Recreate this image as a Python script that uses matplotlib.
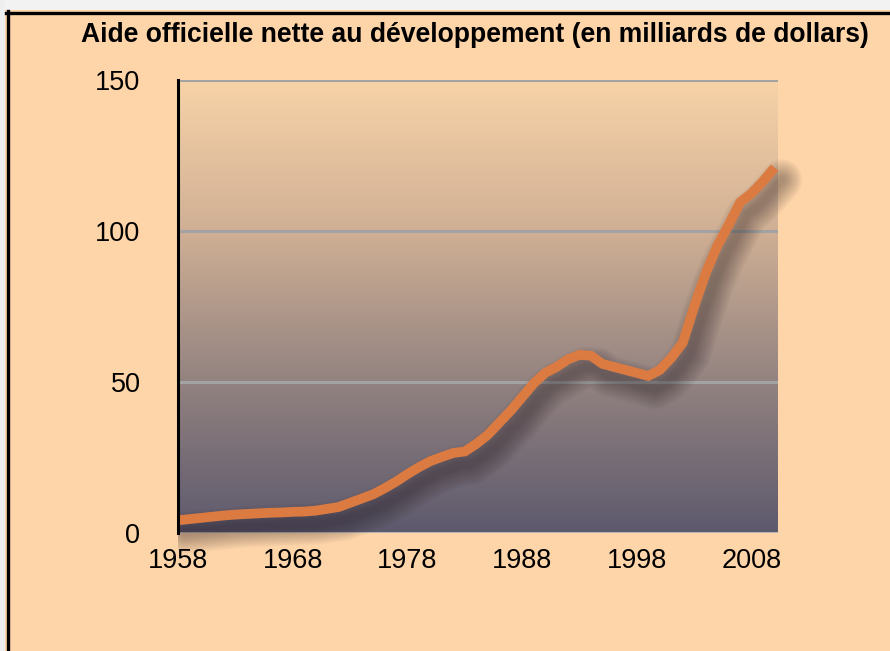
import numpy as np
import matplotlib
matplotlib.use("Agg")
import matplotlib.pyplot as plt
import matplotlib.transforms as mtransforms
from matplotlib.colors import LinearSegmentedColormap
from matplotlib.lines import Line2D
from matplotlib.patches import Rectangle

plt.rcParams['font.family'] = ['Liberation Sans', 'DejaVu Sans']

title = "Aide officielle nette au développement (en milliards de dollars)"
years = list(range(1958, 2011))
aid = [4.2, 4.6, 5.0, 5.4, 5.8, 6.1, 6.3, 6.5, 6.7, 6.8,
       7.0, 7.1, 7.4, 8.0, 8.6, 10.0, 11.4, 12.8, 14.8, 17.0,
       19.5, 21.8, 23.8, 25.2, 26.5, 27.0, 29.5, 32.5, 36.5, 40.5,
       45.0, 49.5, 53.0, 55.0, 57.5, 59.0, 58.7, 56.0, 55.0, 54.0,
       53.0, 52.0, 54.0, 58.0, 63.0, 75.0, 86.0, 95.0, 102.0, 109.5,
       112.5, 116.5, 121.0]
xticks = [1958, 1968, 1978, 1988, 1998, 2008]
yticks = [0, 50, 100, 150]

W, H = 890, 651
fig = plt.figure(figsize=(W / 100, H / 100), dpi=100)
fig.patch.set_facecolor('#FED5A9')

# outer white margin + frame
fig.add_artist(Rectangle((0, 1 - 10 / H), 1, 10 / H, transform=fig.transFigure,
                         facecolor='#F2F2F2', edgecolor='none', zorder=0))
fig.add_artist(Rectangle((0, 0), 5 / W, 1, transform=fig.transFigure,
                         facecolor='#EEEEEE', edgecolor='none', zorder=0))
fig.add_artist(Line2D([7.5 / W, 7.5 / W], [0, 1 - 11 / H], transform=fig.transFigure,
                      color='black', lw=2.4, zorder=1))
fig.add_artist(Line2D([6 / W, 1], [1 - 12.5 / H, 1 - 12.5 / H], transform=fig.transFigure,
                      color='black', lw=2.4, zorder=1))

ax = fig.add_axes([178 / W, 118 / H, 600 / W, 453 / H])
ax.set_xlim(1958, 2010.3)
ax.set_ylim(0, 150)

# gradient background
cmap = LinearSegmentedColormap.from_list(
    'bg', [(0.0, '#5D596D'), (0.33, '#928280'), (0.67, '#D0B095'), (1.0, '#F8D3A8')])
grad = np.linspace(0, 1, 256).reshape(-1, 1)
ax.imshow(grad, cmap=cmap, origin='lower', aspect='auto',
          extent=[1958, 2010.3, 0, 150], zorder=0)

# gridlines
for y in yticks:
    ax.axhline(y, color='#B4B4B4' if y == 0 else '#A3A3A3', lw=2.2, zorder=1)

# soft shadow (clipped to the right of the y axis)
clip_rect = Rectangle((178 / W, 0), 1 - 178 / W, 1 - 80 / H,
                      transform=fig.transFigure, facecolor='none', edgecolor='none')
tr = mtransforms.offset_copy(ax.transData, fig=fig, x=5, y=-9, units='points')
for w in np.linspace(30, 5, 14):
    ln, = ax.plot(years, aid, color='#2A2026', lw=w, alpha=0.03, transform=tr,
                  solid_capstyle='round', solid_joinstyle='round', zorder=2)
    ln.set_clip_path(clip_rect)

ax.plot(years, aid, color='#DB7B41', lw=7.0, solid_capstyle='butt',
        solid_joinstyle='miter', zorder=3)

for s in ['top', 'right', 'bottom']:
    ax.spines[s].set_visible(False)
ax.spines['left'].set_linewidth(2.2)
ax.spines['left'].set_color('black')
ax.spines['left'].set_zorder(4)

ax.set_xticks(xticks)
ax.set_xticklabels([str(x) for x in xticks])
ax.set_yticks(yticks)
ax.set_yticklabels([str(y) for y in yticks])
ax.tick_params(axis='both', length=0, labelsize=19.5, colors='black')
ax.tick_params(axis='x', pad=11)
ax.tick_params(axis='y', pad=27)

fig.text(475 / W, 1 - 42 / H, title, ha='center', va='baseline',
         fontsize=19.1, fontweight='bold', color='black')

fig.savefig('out.png', dpi=100, facecolor=fig.get_facecolor())
